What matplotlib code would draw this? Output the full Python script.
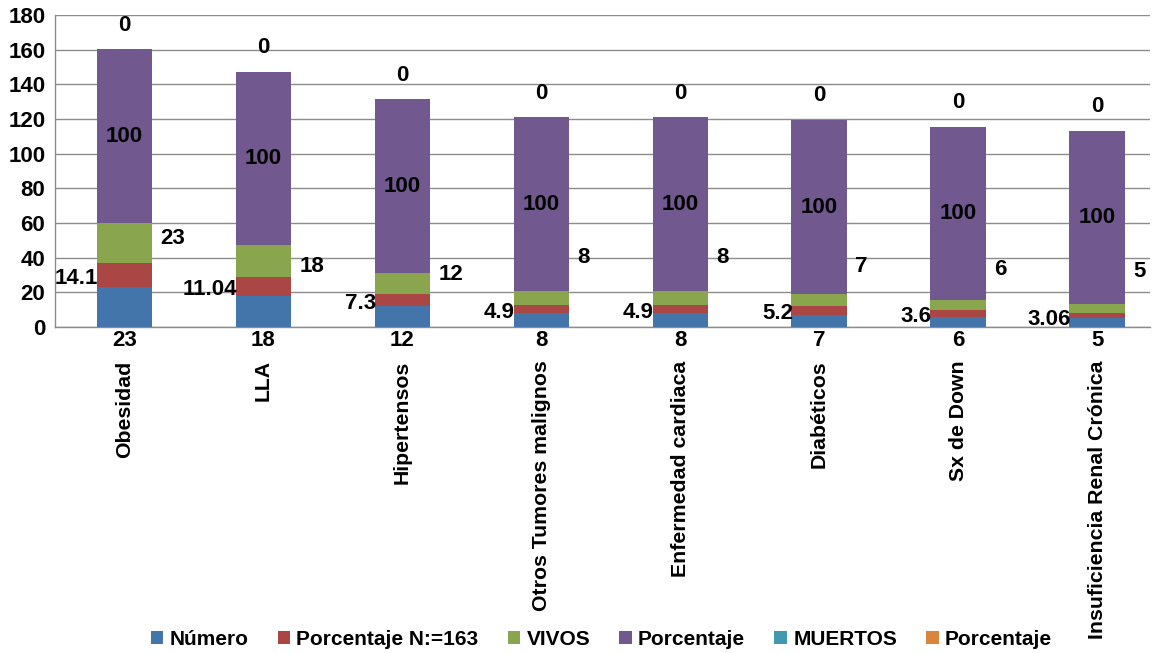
import matplotlib.pyplot as plt
import numpy as np

plt.rcParams["font.family"] = ["Liberation Sans", "DejaVu Sans"]
plt.rcParams["font.weight"] = "bold"

categorias = [
    "Obesidad",
    "LLA",
    "Hipertensos",
    "Otros Tumores malignos",
    "Enfermedad cardiaca",
    "Diabéticos",
    "Sx de Down",
    "Insuficiencia Renal Crónica",
]
numero = [23, 18, 12, 8, 8, 7, 6, 5]
porcentaje_n = [14.1, 11.04, 7.3, 4.9, 4.9, 5.2, 3.6, 3.06]
vivos = [23, 18, 12, 8, 8, 7, 6, 5]
porcentaje_vivos = [100, 100, 100, 100, 100, 100, 100, 100]
muertos = [0, 0, 0, 0, 0, 0, 0, 0]
porcentaje_muertos = [0, 0, 0, 0, 0, 0, 0, 0]

# heights where the VIVOS labels sit (moved by hand beside the bars)
vivos_label_y = [51, 35, 30, 40, 40, 35, 33, 32]

series = [
    ("Número", numero, "#4374AA"),
    ("Porcentaje N:=163", porcentaje_n, "#AA4643"),
    ("VIVOS", vivos, "#89A54E"),
    ("Porcentaje", porcentaje_vivos, "#71588F"),
    ("MUERTOS", muertos, "#4198AF"),
    ("Porcentaje", porcentaje_muertos, "#DB843D"),
]

fig = plt.figure(figsize=(11.61, 6.53), dpi=100)
ax = fig.add_axes([55 / 1161, 1 - 327 / 653, 1095 / 1161, 312 / 653])

x = np.arange(len(categorias))
width = 0.40
bottom = np.zeros(len(categorias))
for name, vals, color in series:
    ax.bar(x, vals, width, bottom=bottom, color=color, label=name, zorder=3)
    bottom += np.array(vals, dtype=float)

fs = 16
for i in range(len(categorias)):
    # Número under the axis
    ax.annotate(f"{numero[i]:g}", (x[i], 0), xytext=(0, -2), textcoords="offset points",
                ha="center", va="top", fontsize=fs, fontweight="bold")
    # percentage of N to the left of the bar
    y_red = numero[i] + porcentaje_n[i] / 2 - 2
    ax.text(x[i] - width / 2 + 0.01, y_red, f"{porcentaje_n[i]:g}", ha="right",
            va="center", fontsize=fs, fontweight="bold", zorder=4)
    # VIVOS to the right
    ax.text(x[i] + width / 2 + 0.06, vivos_label_y[i], f"{vivos[i]:g}", ha="left",
            va="center", fontsize=fs, fontweight="bold", zorder=4)
    # 100 in the purple block
    start = numero[i] + porcentaje_n[i] + vivos[i]
    ax.text(x[i], start + porcentaje_vivos[i] / 2, f"{porcentaje_vivos[i]:g}",
            ha="center", va="center", fontsize=fs, fontweight="bold", zorder=4)
    # muertos above the top
    top = start + porcentaje_vivos[i] + muertos[i] + porcentaje_muertos[i]
    ax.annotate(f"{muertos[i]:g}", (x[i], top), xytext=(0, 10), textcoords="offset points",
                ha="center", va="bottom", fontsize=fs, fontweight="bold")

ax.set_xlim(-0.5, 7.38)
ax.set_ylim(0, 180)
ax.set_yticks(range(0, 181, 20))
ax.yaxis.grid(True, color="#8c8c8c", linewidth=1, zorder=0)
ax.set_axisbelow(True)
ax.set_xticks(x)
ax.set_xticklabels(categorias, rotation=90, fontsize=15.3, fontweight="bold")
ax.tick_params(axis="x", length=0, pad=24)
ax.tick_params(axis="y", length=0, pad=7, labelsize=fs)
for s in ["top", "right"]:
    ax.spines[s].set_visible(False)
for s in ["left", "bottom"]:
    ax.spines[s].set_color("#8c8c8c")
    ax.spines[s].set_linewidth(1)

leg = fig.legend(loc="lower center", bbox_to_anchor=(0.518, -0.022), ncol=6, frameon=False,
                 fontsize=15, handlelength=0.6, handleheight=0.6, handletextpad=0.3,
                 columnspacing=1.4)
for t in leg.get_texts():
    t.set_fontweight("bold")

fig.savefig("out.png", dpi=100)
